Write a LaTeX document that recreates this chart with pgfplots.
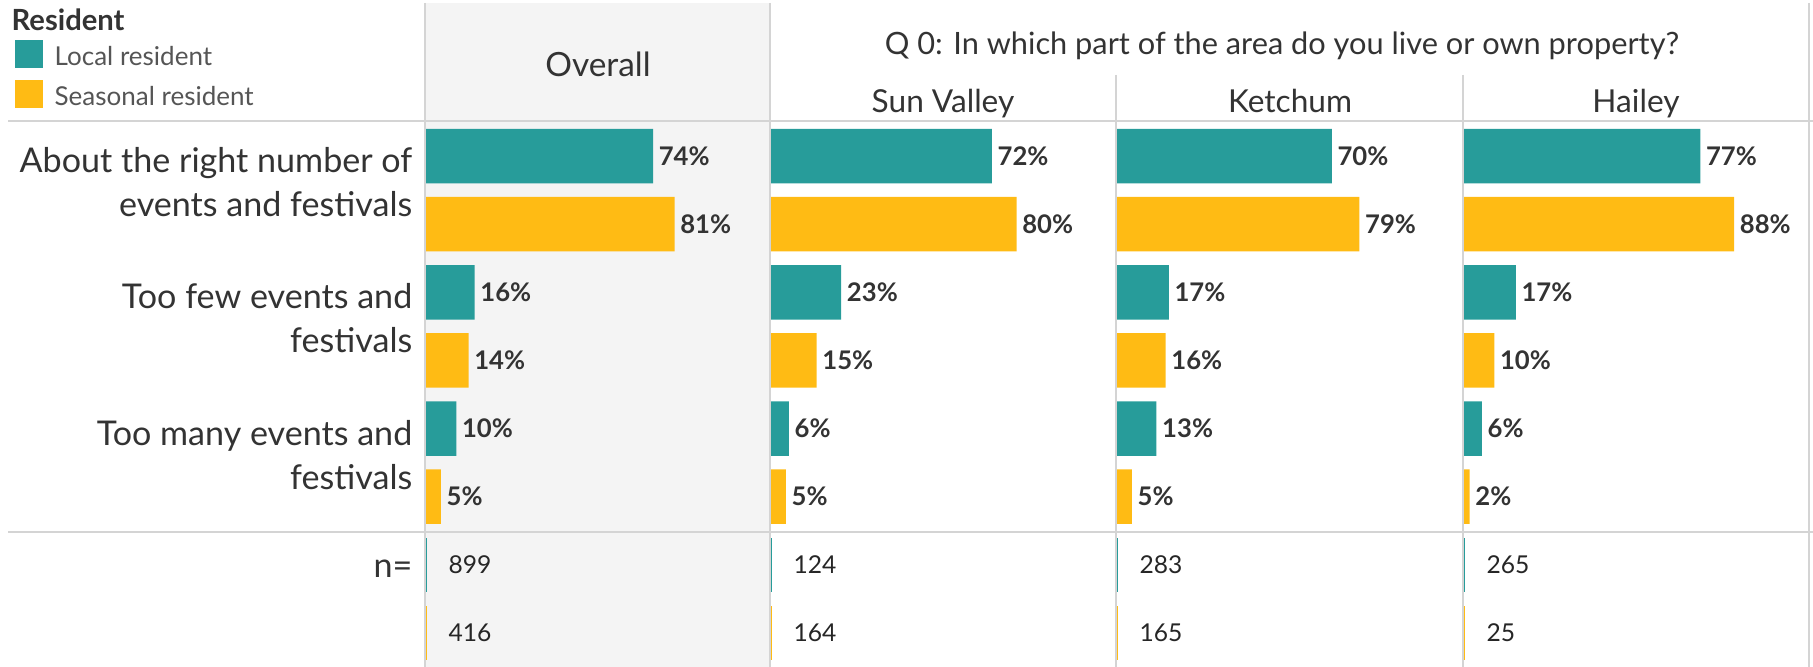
\documentclass[border=0pt]{standalone}
\usepackage{pgfplots}
\pgfplotsset{compat=1.18}
\usepackage{fontspec}
\setmainfont{Lato}

\definecolor{teal}{HTML}{279C9A}
\definecolor{gold}{HTML}{FFBB14}
\definecolor{gridgray}{HTML}{D4D4D4}
\definecolor{ovbg}{HTML}{F4F4F4}
\definecolor{ink}{HTML}{333333}
\definecolor{soft}{HTML}{555555}

% rows: 1,3,5 local; 2,4,6 seasonal; 7,8 sample sizes
\pgfplotstableread{
row val
1 74
3 16
5 10
}\ovLocal
\pgfplotstableread{
row val
2 81
4 14
6 5
}\ovSeas

\pgfplotstableread{
row val
1 72
3 23
5 6
}\svLocal
\pgfplotstableread{
row val
2 80
4 15
6 5
}\svSeas

\pgfplotstableread{
row val
1 70
3 17
5 13
}\keLocal
\pgfplotstableread{
row val
2 79
4 16
6 5
}\keSeas

\pgfplotstableread{
row val
1 77
3 17
5 6
}\haLocal
\pgfplotstableread{
row val
2 88
4 10
6 2
}\haSeas

\pgfplotsset{
  panel/.style={
    xbar, bar shift=0pt, bar width=0.8,
    scale only axis, width=3.46cm, height=5.45cm,
    xmin=0, xmax=112.5, ymin=0.5, ymax=8.5, y dir=reverse,
    hide axis, clip=false, anchor=south west,
    /pgf/number format/assume math mode=true,
  },
  pct/.style={
    draw=none, fill=#1, point meta=x,
    nodes near coords={\pgfmathprintnumber{\pgfplotspointmeta}\%},
    every node near coord/.append style={font=\bfseries\fontsize{7.3}{8}\selectfont, text=ink, anchor=west, xshift=-1.9pt},
  },
  cnt/.style={
    draw=none, fill=#1, point meta=explicit symbolic,
    nodes near coords={\pgfplotspointmeta},
    every node near coord/.append style={font=\fontsize{7}{8}\selectfont, text=black!85, anchor=west, xshift=2.5pt},
  },
}

% #1 left edge (cm), #2 local table, #3 seasonal table, #4/#5 sample sizes
\newcommand\panel[5]{%
  \begin{axis}[panel, at={(#1cm,-6.67cm)}]
    \addplot[pct=teal] table[x=val, y=row] {#2};
    \addplot[pct=gold] table[x=val, y=row] {#3};
    \addplot[cnt=teal] coordinates {(0.6,7) [#4]};
    \addplot[cnt=gold] coordinates {(0.6,8) [#5]};
  \end{axis}}

\begin{document}
\begin{tikzpicture}
\useasboundingbox (0,0) rectangle (18.13,-6.67);
% shaded Overall column
\fill[ovbg] (4.25,-0.03) rectangle (7.70,-6.67);

\panel{4.255}{\ovLocal}{\ovSeas}{899}{416}
\panel{7.705}{\svLocal}{\svSeas}{124}{164}
\panel{11.165}{\keLocal}{\keSeas}{283}{165}
\panel{14.635}{\haLocal}{\haSeas}{265}{25}

% grid lines
\begin{scope}[gridgray, line width=0.6pt]
\draw (0.08,-1.21) -- (18.13,-1.21);
\draw (0.08,-5.32) -- (18.13,-5.32);
\draw (4.25,-0.03) -- (4.25,-6.67);
\draw (7.70,-0.03) -- (7.70,-6.67);
\draw (11.16,-0.75) -- (11.16,-6.67);
\draw (14.63,-0.75) -- (14.63,-6.67);
\draw (18.09,-0.03) -- (18.09,-6.67);
\end{scope}

% legend
\node[anchor=west, inner sep=0pt, font=\bfseries\fontsize{8.3}{10}\selectfont, text=ink] at (0.11,-0.20) {Resident};
\fill[teal] (0.15,-0.40) rectangle (0.43,-0.68);
\fill[gold] (0.15,-0.80) rectangle (0.43,-1.08);
\node[anchor=west, font=\fontsize{7.4}{9}\selectfont, text=soft, inner sep=0pt] at (0.54,-0.56) {Local resident};
\node[anchor=west, font=\fontsize{7.4}{9}\selectfont, text=soft, inner sep=0pt] at (0.54,-0.96) {Seasonal resident};

% headers
\begin{scope}[every node/.style={text=ink, text height=1.6ex, text depth=0.4ex, inner sep=0pt}]
\node[font=\fontsize{9.5}{11}\selectfont] at (5.98,-0.66) {Overall};
\node[font=\fontsize{8.75}{11}\selectfont] at (12.82,-0.44) {Q 0: In which part of the area do you live or own property?};
\node[font=\fontsize{9}{11}\selectfont] at (9.43,-1.02) {Sun Valley};
\node[font=\fontsize{9}{11}\selectfont] at (12.90,-1.02) {Ketchum};
\node[font=\fontsize{9}{11}\selectfont] at (16.36,-1.02) {Hailey};
\end{scope}

% row labels
\begin{scope}[every node/.style={anchor=east, align=right, inner sep=0pt, text=ink, font=\fontsize{9.7}{12.3}\selectfont}]
\node at (4.13,-1.82) {About the right number of\\events and festivals};
\node at (4.13,-3.18) {Too few events and\\festivals};
\node at (4.13,-4.55) {Too many events and\\festivals};
\node at (4.13,-5.69) {n=};
\end{scope}
\end{tikzpicture}
\end{document}
